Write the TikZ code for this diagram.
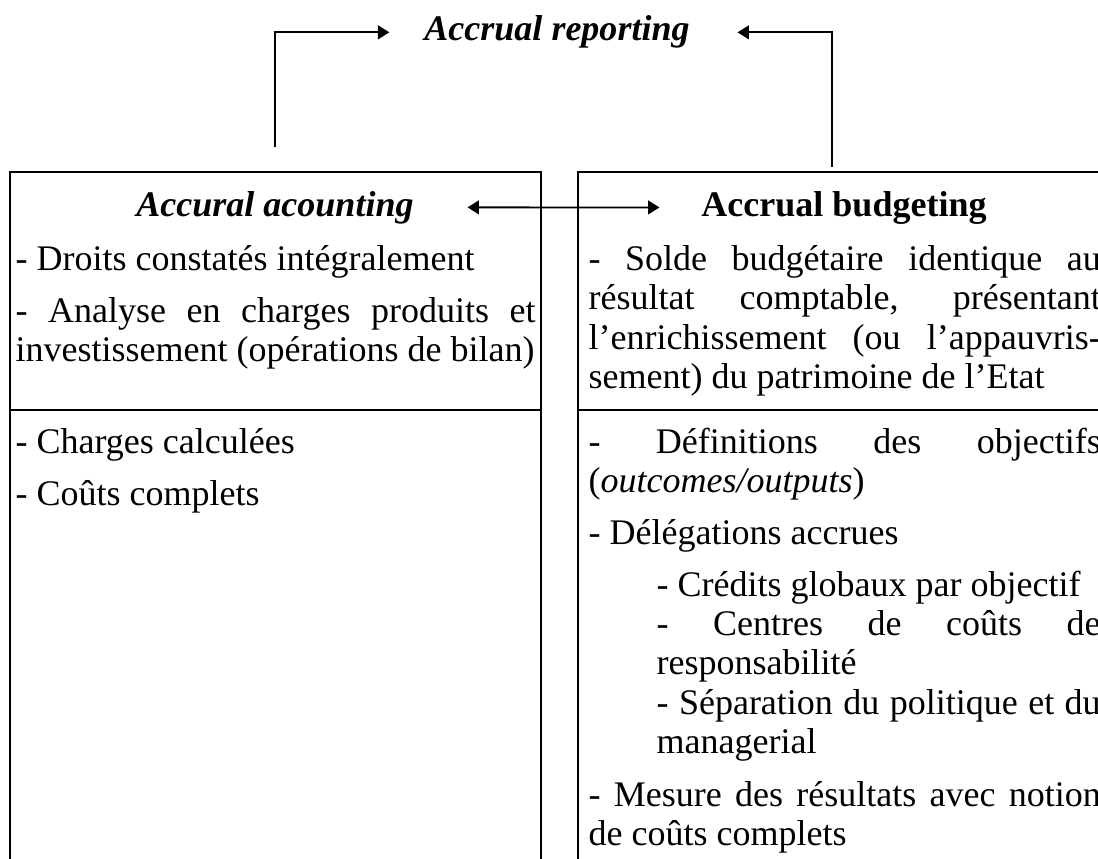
\documentclass[tikz,border=0pt]{standalone}
\usepackage{fontspec}
\setmainfont{Liberation Serif}
\usetikzlibrary{arrows.meta}
\hbadness=10000

\begin{document}
\begin{tikzpicture}[x=0.3333pt, y=-0.3333pt,
	font=\fontsize{12}{13.2}\selectfont,
	>={Triangle[length=3.8pt, width=4.6pt]},
	box/.style={line width=0.8pt},
	conn/.style={line width=0.6pt},
	para/.style={anchor=base west, inner sep=0pt, align=justify, text width=#1},
	head/.style={anchor=base, inner sep=0pt}]
	\useasboundingbox (0, 0) rectangle (1098, 858);
	% two columns, open at the bottom
	\draw [box] (10, 870) -- (10, 172) -- (541, 172) -- (541, 870);
	\draw [box] (10, 410) -- (541, 410);
	\draw [box] (578, 870) -- (578, 172) -- (1115, 172) -- (1115, 870);
	\draw [box] (578, 410) -- (1115, 410);
	% headings
	\node (title) [head] at (557, 41) {\textbf{\textit{Accrual reporting}}};
	\node (acc) [head] at (275, 216) {\textbf{\textit{Accural acounting}}};
	\node (bud) [head] at (844, 216) {\textbf{Accrual budgeting}};
	\coordinate (accup) at (275, 147);
	\coordinate (budup) at (832, 167);
	\draw [conn, ->, shorten >=11.5pt] (accup) |- (title.west);
	\draw [conn, ->, shorten >=15.8pt] (budup) |- (title.east);
	\draw [conn, <->, shorten <=17.8pt, shorten >=13.8pt] (acc.east) -- (bud.west);
	% left column
	\node (droits) [para=173.3pt] at (15, 270) {- Droits constatés intégralement};
	\node (analyse) [para=173.3pt] at (15, 322) {- Analyse en charges produits et\linebreak investissement (opérations de bilan)};
	\node (charges) [para=173.3pt] at (15, 453) {- Charges calculées};
	\node (couts) [para=173.3pt] at (15, 505) {- Coûts complets};
	% right column
	\node (solde) [para=170.7pt] at (588, 270) {- Solde budgétaire identique au\linebreak résultat comptable, présentant\linebreak l’enrichissement (ou l’appauvris-\linebreak sement) du patrimoine de l’Etat};
	\node (defin) [para=170.7pt] at (588, 453) {- Définitions des objectifs\linebreak (\textit{outcomes/outputs})};
	\node (deleg) [para=170.7pt] at (588, 544) {- Délégations accrues};
	\node (credits) [para=148pt] at (656, 596) {- Crédits globaux par objectif};
	\node (centres) [para=148pt] at (656, 635) {- Centres de coûts de\linebreak responsabilité};
	\node (separ) [para=148pt] at (656, 714) {- Séparation du politique et du\linebreak managerial};
	\node (mesure) [para=170.7pt] at (588, 806) {- Mesure des résultats avec notion\linebreak de coûts complets};
\end{tikzpicture}
\end{document}
